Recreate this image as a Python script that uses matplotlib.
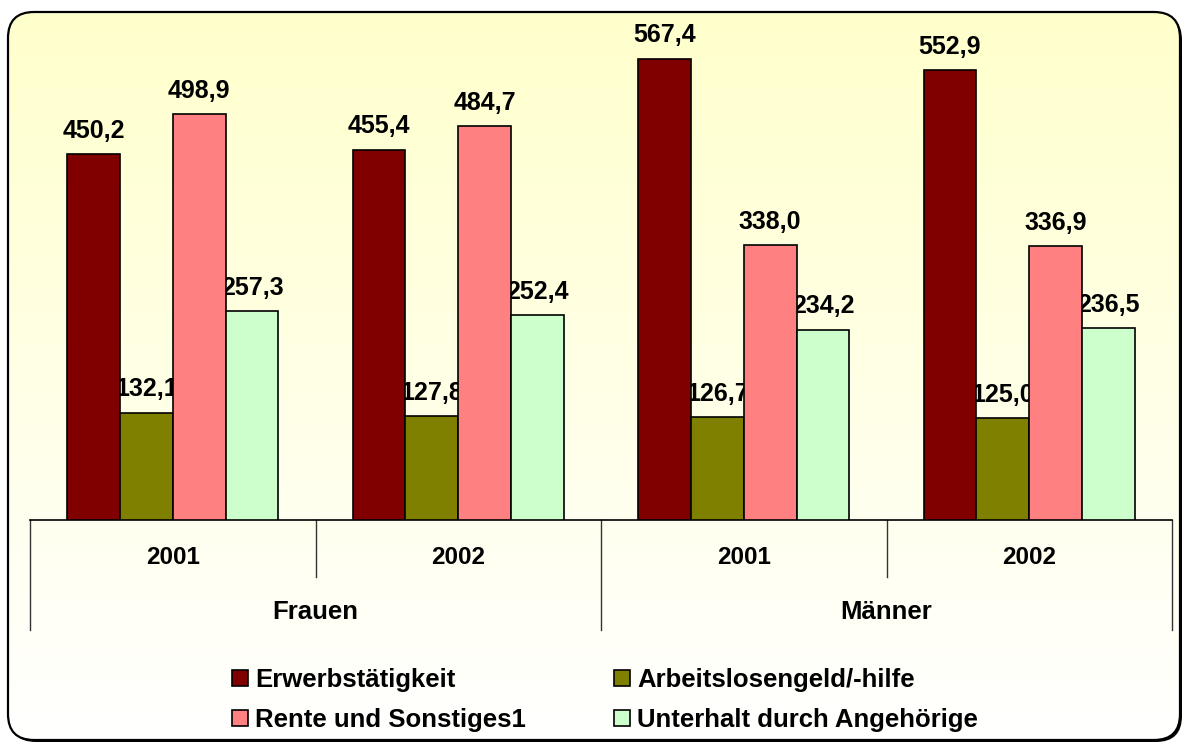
import numpy as np
import matplotlib.pyplot as plt
from matplotlib.patches import FancyBboxPatch, Patch
from matplotlib.transforms import IdentityTransform
from matplotlib.colors import LinearSegmentedColormap

plt.rcParams['font.family'] = ['Liberation Sans', 'DejaVu Sans']

# data
groups = ['Frauen', 'Männer']
years = ['2001', '2002', '2001', '2002']
series = ['Erwerbstätigkeit', 'Arbeitslosengeld/-hilfe',
          'Rente und Sonstiges1', 'Unterhalt durch Angehörige']
erwerb = [450.2, 455.4, 567.4, 552.9]
arbeitslos = [132.1, 127.8, 126.7, 125.0]
rente = [498.9, 484.7, 338.0, 336.9]
unterhalt = [257.3, 252.4, 234.2, 236.5]
colors = ['#800000', '#808000', '#FF8080', '#CCFFCC']

W, H = 1185, 744
fig = plt.figure(figsize=(W / 100, H / 100), dpi=100)

# rounded frame with small shadow and gradient fill
box = (8, 4, 1172, 728)
style = 'round,pad=0,rounding_size=26'
shadow = FancyBboxPatch((box[0] + 2, box[1] - 2), box[2], box[3], boxstyle=style,
                        transform=IdentityTransform(), facecolor='black',
                        edgecolor='none', zorder=-3)
fig.patches.append(shadow)

bg = fig.add_axes([0, 0, 1, 1], zorder=-2)
bg.set_xlim(0, W)
bg.set_ylim(0, H)
bg.axis('off')
cmap = LinearSegmentedColormap.from_list('bg', ['#FFFFCC', '#FFFFFF'])
grad = np.linspace(0, 1, 256).reshape(-1, 1)
im = bg.imshow(grad, cmap=cmap, aspect='auto', origin='upper',
               extent=[box[0], box[0] + box[2], box[1], box[1] + box[3]])
clip = FancyBboxPatch(box[:2], box[2], box[3], boxstyle=style,
                      transform=IdentityTransform(), facecolor='none')
im.set_clip_path(clip)
frame = FancyBboxPatch(box[:2], box[2], box[3], boxstyle=style,
                       transform=IdentityTransform(), facecolor='none',
                       edgecolor='black', lw=1.6, zorder=6)
fig.patches.append(frame)

# main plot
ax = fig.add_axes([30 / W, (H - 520) / H, 1142 / W, 488 / H])
ax.set_facecolor('none')
ax.set_xlim(0, len(years))
ax.set_ylim(0, 600)
for s in ['left', 'right', 'top']:
    ax.spines[s].set_visible(False)
ax.spines['bottom'].set_linewidth(1.2)
ax.set_xticks([])
ax.set_yticks([])

x = np.arange(len(years)) + 0.5
w = 0.185
for k, vals in enumerate([erwerb, arbeitslos, rente, unterhalt]):
    bars = ax.bar(x + (k - 1.5) * w, vals, w, color=colors[k],
                  edgecolor='black', lw=1.2, zorder=3)
    ax.bar_label(bars, labels=[f'{v:.1f}'.replace('.', ',') for v in vals],
                 padding=8, fontsize=18, fontweight='bold', zorder=1)

# two-level category axis
tr = ax.get_xaxis_transform()
per = len(years) // len(groups)
for i in range(len(years) + 1):
    depth = 110 if i % per == 0 else 57
    ax.plot([i, i], [0, -depth / 488], transform=tr, clip_on=False,
            color='#333333', lw=1)
for i, yr in enumerate(years):
    ax.text(i + 0.5, -37 / 488, yr, transform=tr, ha='center', va='center',
            fontsize=17.5, fontweight='bold')
for j, g in enumerate(groups):
    ax.text(j * per + per / 2, -92 / 488, g, transform=tr, ha='center',
            va='center', fontsize=18.5, fontweight='bold')

# legend
order = [0, 2, 1, 3]
handles = [Patch(facecolor=colors[i], edgecolor='black', lw=1.2) for i in order]
fig.legend(handles, [series[i] for i in order], ncol=2, loc='center',
           bbox_to_anchor=(605 / W, (H - 700) / H), frameon=False,
           prop={'weight': 'bold', 'size': 18.5}, handlelength=0.62,
           handleheight=0.62, handletextpad=0.3, columnspacing=3.4,
           labelspacing=0.62)

fig.savefig('out.png', dpi=100)
